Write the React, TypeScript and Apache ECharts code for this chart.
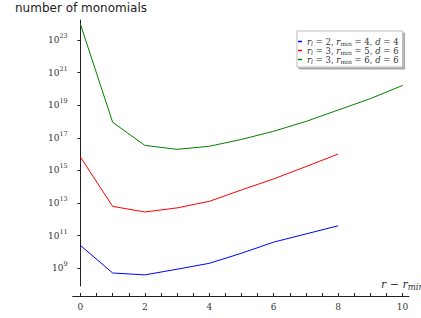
import React, { useEffect, useRef } from 'react';
import * as echarts from 'echarts';

// x: r - r_min
const stepsShort = [0, 1, 2, 3, 4, 5, 6, 7, 8];
const stepsLong = [0, 1, 2, 3, 4, 5, 6, 7, 8, 9, 10];

// number of monomials
const blueValues = [2.5e10, 5.1e8, 3.9e8, 8.7e8, 2.0e9, 8.3e9, 4.0e10, 1.26e11, 4.0e11];
const redValues = [6.6e15, 6.2e12, 2.8e12, 5.0e12, 1.26e13, 6.3e13, 3.0e14, 1.7e15, 1.0e16];
const greenValues = [9.1e23, 8.9e17, 3.4e16, 1.95e16, 3.0e16, 7.9e16, 2.5e17, 1.0e18, 5.0e18, 2.5e19, 1.6e20];

const seriesNames = ['rl=2,rmin=4,d=4', 'rl=3,rmin=5,d=6', 'rl=3,rmin=6,d=6'];
const legendParams = [
  { rl: '2', rmin: '4', d: '4' },
  { rl: '3', rmin: '5', d: '6' },
  { rl: '3', rmin: '6', d: '6' },
];
const seriesColors = ['#0000ff', '#ff0000', '#008000'];

const yTickExponents = [9, 11, 13, 15, 17, 19, 21, 23];
const xTickLabels = [0, 2, 4, 6, 8, 10];
const xMinorTicks = [0, 0.5, 1, 1.5, 2, 2.5, 3, 3.5, 4, 4.5, 5, 5.5, 6, 6.5, 7, 7.5, 8, 8.5, 9, 9.5, 10];

const SERIF = '"DejaVu Serif", "Liberation Serif", serif';

export default function App() {
  const ref = useRef<HTMLDivElement>(null);
  useEffect(() => {
    document.body.style.margin = '0';
    const chart = echarts.init(ref.current!, null, { renderer: 'svg' });
    const mk = (xs: number[], ys: number[]) => xs.map((x, i) => [x, ys[i]]);
    chart.setOption({
      animation: false,
      backgroundColor: '#fff',
      title: {
        text: 'number of monomials',
        left: 15,
        top: 2,
        padding: 0,
        textStyle: { fontFamily: '"DejaVu Sans", sans-serif', fontSize: 12, fontWeight: 'normal', color: '#222' },
      },
      grid: { left: 72.7, right: 12, top: 20, bottom: 32, containLabel: false },
      xAxis: {
        type: 'value',
        min: -0.24,
        max: 10.2,
        offset: 10,
        splitLine: { show: false },
        axisLine: { onZero: false, lineStyle: { color: '#222', width: 1 } },
        axisTick: { inside: true, length: 3, customValues: xMinorTicks, lineStyle: { color: '#222', width: 1 } },
        axisLabel: {
          customValues: xTickLabels,
          margin: 6,
          fontFamily: SERIF,
          fontSize: 9,
          color: '#333',
        },
      },
      yAxis: {
        type: 'log',
        logBase: 10,
        min: Math.pow(10, 7.91),
        max: Math.pow(10, 24.22),
        splitLine: { show: false },
        axisLine: { onZero: true, lineStyle: { color: '#222', width: 1 } },
        axisTick: {
          length: 3,
          customValues: yTickExponents.map((e) => Math.pow(10, e)),
          lineStyle: { color: '#222', width: 1 },
        },
        axisLabel: {
          customValues: yTickExponents.map((e) => Math.pow(10, e)),
          margin: 5,
          formatter: (v: number) => `{b|10}{s|${Math.round(Math.log10(v))}}`,
          rich: {
            b: { fontFamily: SERIF, fontSize: 9, lineHeight: 9, color: '#333', verticalAlign: 'bottom' },
            s: { fontFamily: SERIF, fontSize: 6.5, lineHeight: 6, color: '#333', padding: [0, 0, 5, 0], verticalAlign: 'bottom' },
          },
        },
      },
      legend: {
        orient: 'vertical',
        left: 297,
        top: 31,
        padding: [6, 4, 3, 1],
        itemGap: 0,
        itemWidth: 4,
        itemHeight: 1.5,
        icon: 'rect',
        backgroundColor: '#fff',
        borderColor: '#bbb',
        borderWidth: 1,
        borderRadius: 0,
        shadowColor: 'rgba(0,0,0,0.35)',
        shadowOffsetX: 2,
        shadowOffsetY: 2,
        shadowBlur: 0,
        data: seriesNames,
        formatter: (name: string) => {
          const p = legendParams[seriesNames.indexOf(name)];
          return `{i|r}{sub|l}{n| = ${p.rl}, }{i|r}{subr|min}{n| = ${p.rmin}, }{i|d}{n| = ${p.d}}`;
        },
        textStyle: {
          fontFamily: SERIF,
          fontSize: 8.5,
          lineHeight: 7,
          color: '#333',
          rich: {
            i: { fontFamily: SERIF, fontStyle: 'italic', fontSize: 8.5, lineHeight: 7, color: '#333' },
            n: { fontFamily: SERIF, fontSize: 8.5, lineHeight: 7, color: '#333' },
            sub: { fontFamily: SERIF, fontStyle: 'italic', fontSize: 6, lineHeight: 4, padding: [3, 0, 0, 0], color: '#333' },
            subr: { fontFamily: SERIF, fontSize: 6, lineHeight: 4, padding: [3, 0, 0, 0], color: '#333' },
          },
        },
      },
      graphic: [
        {
          type: 'text',
          left: 381,
          top: 278,
          style: {
            text: '{i|r − r}{sub|min}',
            rich: {
              i: { fontFamily: SERIF, fontStyle: 'italic', fontSize: 11, lineHeight: 11, fill: '#333' },
              sub: { fontFamily: SERIF, fontStyle: 'italic', fontSize: 8.5, lineHeight: 7, padding: [4, 0, 0, 0], fill: '#333' },
            },
          },
        },
      ],
      series: [
        {
          name: seriesNames[0],
          type: 'line',
          data: mk(stepsShort, blueValues),
          showSymbol: false,
          symbol: 'none',
          color: seriesColors[0],
          lineStyle: { width: 1, color: seriesColors[0] },
        },
        {
          name: seriesNames[1],
          type: 'line',
          data: mk(stepsShort, redValues),
          showSymbol: false,
          symbol: 'none',
          color: seriesColors[1],
          lineStyle: { width: 1, color: seriesColors[1] },
        },
        {
          name: seriesNames[2],
          type: 'line',
          data: mk(stepsLong, greenValues),
          showSymbol: false,
          symbol: 'none',
          color: seriesColors[2],
          lineStyle: { width: 1, color: seriesColors[2] },
        },
      ],
    });
    return () => chart.dispose();
  }, []);
  return <div ref={ref} style={{ width: 421, height: 318 }} />;
}
